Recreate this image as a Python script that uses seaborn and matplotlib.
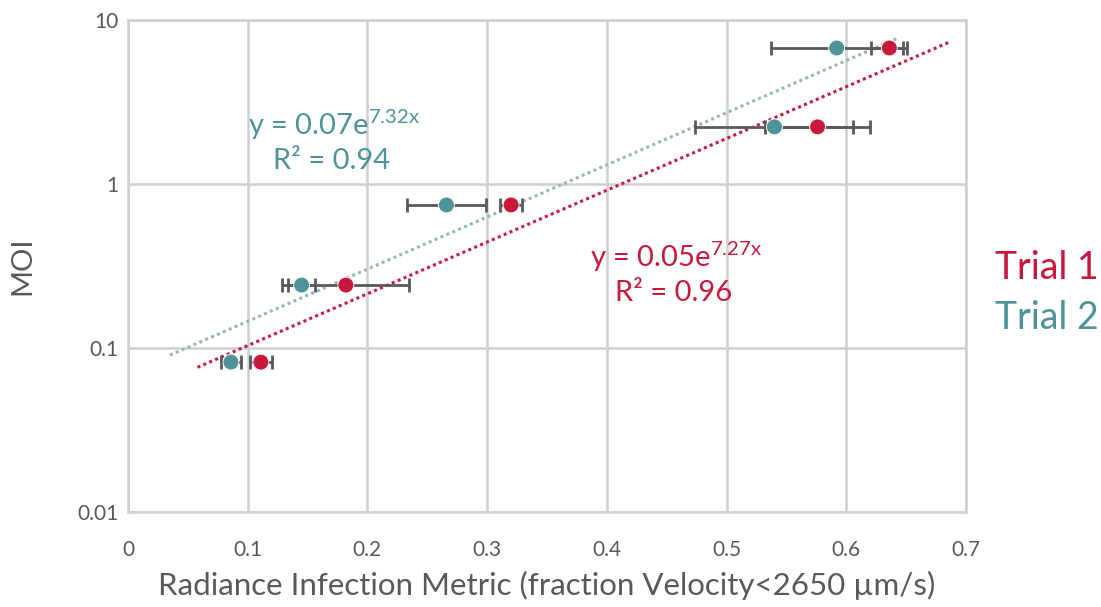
import numpy as np
import pandas as pd
import matplotlib
matplotlib.use('Agg')
import matplotlib.pyplot as plt
import seaborn as sns

# data
trial1_x = [0.636, 0.576, 0.320, 0.182, 0.111]
trial1_moi = [6.75, 2.23, 0.745, 0.242, 0.082]
trial1_err = [0.015, 0.044, 0.009, 0.053, 0.009]

trial2_x = [0.592, 0.540, 0.266, 0.145, 0.086]
trial2_moi = [6.75, 2.23, 0.745, 0.242, 0.082]
trial2_err = [0.055, 0.066, 0.033, 0.011, 0.008]

# exponential trendlines y = a*exp(b*x), as printed on the chart
fit1_a, fit1_b, fit1_range = 0.05, 7.27, (0.058, 0.687)
fit2_a, fit2_b, fit2_range = 0.07, 7.32, (0.035, 0.643)

red = '#C8193C'
teal = '#4E9399'
teal_light = '#92B8BB'
grey = '#595959'

sns.set_style('white')
plt.rcParams['font.family'] = ['Lato', 'DejaVu Sans']
plt.rcParams['mathtext.default'] = 'regular'

fig = plt.figure(figsize=(11.01, 6.07), dpi=100)
ax = fig.add_axes([128/1101, 1-512/607, (966-128)/1101, (512-20)/607])

# trendlines
for a, b, rng, col in [(fit1_a, fit1_b, fit1_range, red), (fit2_a, fit2_b, fit2_range, teal_light)]:
    xs = np.linspace(rng[0], rng[1], 100)
    sns.lineplot(x=xs, y=a*np.exp(b*xs), ax=ax, color=col, lw=2.2,
                 linestyle=(0, (1, 1.1)), zorder=2)

# error bars
for xs, ys, err in [(trial1_x, trial1_moi, trial1_err), (trial2_x, trial2_moi, trial2_err)]:
    ax.errorbar(xs, ys, xerr=err, fmt='none', ecolor=grey, elinewidth=2,
                capsize=5, capthick=2, zorder=3)

df = pd.concat([
    pd.DataFrame({'x': trial1_x, 'moi': trial1_moi, 'trial': 'Trial 1'}),
    pd.DataFrame({'x': trial2_x, 'moi': trial2_moi, 'trial': 'Trial 2'}),
])
sns.scatterplot(data=df, x='x', y='moi', hue='trial', palette=[red, teal],
                s=130, edgecolor='white', linewidth=0.6, ax=ax, zorder=4, legend=False)

ax.set_yscale('log')
ax.set_xlim(0, 0.7)
ax.set_ylim(0.01, 10)
ax.set_xticks(np.arange(0, 0.71, 0.1))
ax.set_xticklabels(['0', '0.1', '0.2', '0.3', '0.4', '0.5', '0.6', '0.7'])
ax.set_yticks([0.01, 0.1, 1, 10])
ax.set_yticklabels(['0.01', '0.1', '1', '10'])
ax.minorticks_off()
ax.tick_params(axis='both', labelsize=15, colors=grey, length=0)
ax.tick_params(axis='x', pad=20)
ax.tick_params(axis='y', pad=7)
ax.grid(True, color='#CFCFCF', lw=1.8)
ax.set_axisbelow(True)
for sp in ax.spines.values():
    sp.set_color('#CFCFCF')
    sp.set_linewidth(1.8)

ax.set_xlabel('Radiance Infection Metric (fraction Velocity<2650 µm/s)', fontsize=22.5,
              color=grey, labelpad=8)
ax.set_ylabel('MOI', fontsize=21, color=grey, labelpad=30)

# equations
fig.text(248/1101, 1-125/607, 'y = 0.07e$^{7.32x}$', fontsize=21, color=teal, va='center')
fig.text(273/1101, 1-161/607, 'R² = 0.94', fontsize=21, color=teal, va='center')
fig.text(590/1101, 1-257/607, 'y = 0.05e$^{7.27x}$', fontsize=21, color=red, va='center')
fig.text(615/1101, 1-293/607, 'R² = 0.96', fontsize=21, color=red, va='center')

# legend text
fig.text(995/1101, 1-268/607, 'Trial 1', fontsize=27, color=red, va='center')
fig.text(995/1101, 1-318/607, 'Trial 2', fontsize=27, color=teal, va='center')

fig.savefig('out.png', dpi=100)
